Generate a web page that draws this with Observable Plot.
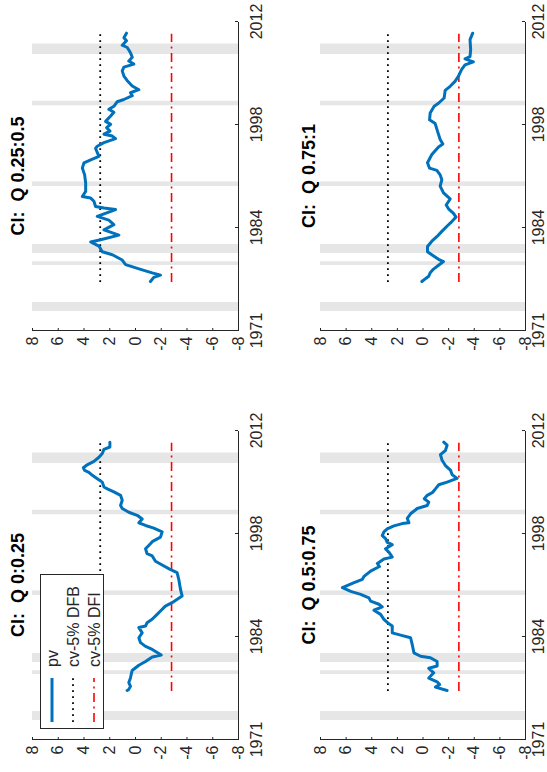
<!DOCTYPE html>
<html><head><meta charset="utf-8">
<script src="https://cdn.jsdelivr.net/npm/d3@7"></script>
<script src="https://cdn.jsdelivr.net/npm/@observablehq/plot@0.6"></script>
<style>
html,body{margin:0;padding:0;background:#fff;overflow:hidden;}
body{width:547px;height:772px;position:relative;}
#fig{position:absolute;left:0;top:0;width:772px;height:547px;transform-origin:0 0;transform:translate(0px,772px) rotate(-90deg);background:#fff;font-family:"Liberation Sans",Arial,Helvetica,sans-serif;}
.panel{position:absolute;}
.panel svg{overflow:visible;}
#legend{position:absolute;left:43px;top:40px;width:155px;height:64px;box-sizing:border-box;border:1px solid #262626;background:#fff;}
#legend svg{position:absolute;left:0;top:0;}
</style></head>
<body><div id="fig"></div>
<script>
// ---- axes / reference values ----
const xDomain = [1971.25, 2012.25];
const tickYears = [1971.25, 1984.9167, 1998.5833, 2012.25];
const tickLabels = ["1971", "1984", "1998", "2012"];
const valueTicks = [-8, -6, -4, -2, 0, 2, 4, 6, 8];
const recessionStart = [1973.9, 1980.0, 1981.6, 1990.5, 2001.2, 2008.0];
const recessionEnd   = [1975.1, 1980.5, 1982.8, 1991.1, 2001.8, 2009.4];
const cvDFB = 2.74;
const cvDFI = -2.8;
const sampleStart = 1977.75;
const sampleEnd = 2010.7;
const titles = ["CI:  Q 0:0.25", "CI:  Q 0.25:0.5", "CI:  Q 0.5:0.75", "CI:  Q 0.75:1"];
const legendLabels = ["pv", "cv-5% DFB", "cv-5% DFI"];

// ---- series: CI Q 0:0.25 ----
const yearsQ1 = [1977.75,1977.9,1978.3,1978.8,1979.4,1980.0,1980.4,1981.1,1981.6,1982.2,1982.45,1983.2,1983.6,1984.1,1984.75,1985.4,1986.1,1986.3,1986.75,1987.2,1987.85,1988.3,1988.95,1989.4,1990.3,1991.2,1992.5,1993.4,1993.85,1994.4,1994.9,1995.6,1995.9,1996.55,1997.0,1997.5,1998.1,1998.8,1999.3,1999.65,2000.0,2000.5,2001.0,2001.4,2001.9,2002.3,2003.0,2003.65,2004.1,2004.5,2004.75,2005.4,2005.85,2006.3,2006.7,2006.95,2007.3,2007.7,2008.15,2008.7,2009.2,2009.75,2010.06,2010.7];
const pvQ1 = [0.65,0.52,0.39,0.52,0.39,0.32,0.26,-0.26,-0.78,-1.3,-2.0,-1.3,-0.78,-0.39,-0.26,-0.52,-0.26,-0.78,-0.9,-1.29,-1.68,-1.94,-2.32,-2.84,-3.62,-3.49,-3.36,-3.23,-2.65,-2.07,-1.55,-1.3,-0.9,-0.78,-1.03,-1.3,-1.94,-2.07,-1.42,-0.78,-0.26,-0.52,-0.13,0.52,1.03,1.16,1.03,1.16,1.68,2.19,2.45,2.58,2.97,3.35,3.62,3.95,4.05,3.75,3.23,2.84,2.58,2.45,1.99,1.99];

// ---- series: CI Q 0.25:0.5 ----
const yearsQ2 = [1977.75,1978.3,1978.6,1978.9,1979.3,1980.0,1980.6,1981.3,1981.7,1982.45,1983.0,1983.3,1983.9,1984.6,1985.3,1985.9,1986.4,1987.3,1987.5,1987.7,1988.4,1988.82,1989.03,1989.7,1990.8,1991.9,1992.8,1993.5,1993.9,1994.35,1995.4,1995.7,1996.17,1996.7,1997.05,1997.3,1997.7,1998.16,1998.6,1999.0,1999.7,2000.2,2000.6,2001.0,2001.6,2001.9,2002.4,2002.8,2003.2,2003.7,2004.4,2005.0,2005.7,2006.2,2006.6,2007.0,2007.5,2008.1,2008.8,2009.1,2009.7,2010.1,2010.7];
const pvQ2 = [-1.16,-1.42,-1.94,-1.3,-0.52,0.77,1.03,1.8,2.58,2.84,3.48,2.71,1.29,2.45,1.68,2.07,2.97,1.55,2.45,3.1,3.23,3.48,4.13,3.87,3.87,3.95,4.13,4.0,3.48,2.84,3.1,2.97,2.45,1.55,1.8,2.45,1.98,2.24,1.93,2.32,1.93,1.68,2.07,1.68,1.42,0.9,0.25,0.39,-0.26,0.25,0.64,0.9,1.03,0.9,0.13,0.52,0.25,0.39,0.64,1.03,0.7,0.9,0.7];

// ---- series: CI Q 0.5:0.75 ----
const yearsQ3 = [1977.75,1978.2,1978.54,1978.9,1979.4,1980.1,1980.7,1981.0,1981.6,1982.1,1982.3,1982.75,1983.85,1984.75,1985.1,1985.4,1986.3,1986.6,1987.2,1987.85,1988.4,1988.85,1989.2,1989.6,1990.05,1990.5,1990.9,1991.4,1992.05,1992.5,1992.9,1993.6,1994.2,1994.6,1995.2,1995.45,1996.1,1996.55,1997.1,1997.4,1997.9,1998.3,1998.8,1999.2,1999.6,1999.9,2000.0,2000.6,2001.2,2001.9,2002.3,2002.75,2003.2,2003.65,2004.0,2004.5,2005.05,2005.4,2005.9,2006.4,2007.0,2007.6,2008.3,2009.05,2009.6,2010.3,2010.7];
const pvQ3 = [-1.88,-0.97,-1.3,-1.1,-0.45,-0.84,-0.45,-1.1,-1.1,-0.58,0.19,0.71,0.84,0.97,1.75,2.4,2.4,2.66,3.05,3.31,3.83,3.18,3.44,4.09,4.22,4.86,5.64,6.29,5.38,4.73,4.6,4.09,3.4,3.56,3.05,2.4,2.66,2.92,2.4,2.79,2.92,3.18,3.05,2.79,2.27,1.62,1.1,1.23,0.97,0.45,-0.33,-0.45,-0.1,-0.33,-0.72,-0.97,-1.23,-1.88,-2.66,-2.27,-2.14,-1.75,-1.49,-1.36,-1.75,-1.88,-1.62];

// ---- series: CI Q 0.75:1 ----
const yearsQ4 = [1977.75,1978.2,1978.4,1978.9,1979.4,1980.0,1980.4,1980.7,1981.2,1981.7,1982.4,1983.1,1983.7,1984.4,1985.15,1985.7,1986.3,1986.8,1987.4,1987.9,1988.7,1989.5,1990.4,1991.25,1991.9,1992.5,1992.8,1993.5,1994.6,1995.6,1996.0,1996.6,1997.7,1998.7,1999.2,2000.1,2001.0,2001.4,2002.1,2003.1,2003.65,2004.3,2005.0,2005.9,2006.5,2006.9,2007.3,2007.6,2008.5,2009.85,2010.7];
const pvQ4 = [0.09,-0.25,-0.43,-0.56,-0.82,-1.29,-1.6,-1.21,-0.77,-0.35,-0.35,-0.69,-1.08,-1.47,-1.91,-2.25,-2.58,-2.38,-1.99,-1.81,-2.12,-1.6,-1.34,-1.47,-1.34,-1.08,-0.51,-0.35,-0.69,-1.21,-1.55,-1.34,-1.13,-0.95,-0.51,-0.56,-0.87,-1.21,-1.65,-1.73,-2.12,-2.5,-2.77,-3.02,-3.28,-3.93,-3.28,-3.67,-3.72,-3.67,-3.88];

// ---- styling ----
const FONT = '"Liberation Sans", Arial, Helvetica, sans-serif';
const AXIS = "#262626";
const BLUE = "#0072BD";
const BAND = "#e6e6e6";
const DOT = "1.8,4.2";
const DASHDOT = "9,4.5,2,4.5";

const bands = recessionStart.map((s, i) => ({s, e: recessionEnd[i]}));
const tickLabelOf = new Map(tickYears.map((t, i) => [t, tickLabels[i]]));

const layouts = [
  {title: titles[0], years: yearsQ1, values: pvQ1, left: 0,   top: 0,   width: 386, height: 273, mL: 32, mR: 45, mT: 32, mB: 35, titleDy: -14, pad: 12},
  {title: titles[1], years: yearsQ2, values: pvQ2, left: 386, top: 0,   width: 386, height: 273, mL: 55, mR: 22, mT: 32, mB: 35, titleDy: -14, pad: 12},
  {title: titles[2], years: yearsQ3, values: pvQ3, left: 0,   top: 273, width: 386, height: 274, mL: 32, mR: 45, mT: 47, mB: 22, titleDy: -11, pad: 7},
  {title: titles[3], years: yearsQ4, values: pvQ4, left: 386, top: 273, width: 386, height: 274, mL: 55, mR: 22, mT: 47, mB: 22, titleDy: -11, pad: 7}
];

const fig = document.getElementById("fig");

for (const L of layouts) {
  const pts = L.years.map((yr, i) => ({year: yr, v: L.values[i]}));
  const plotW = L.width - L.mL - L.mR;
  const plotH = L.height - L.mT - L.mB;
  const svg = Plot.plot({
    width: L.width,
    height: L.height,
    marginLeft: L.mL, marginRight: L.mR, marginTop: L.mT, marginBottom: L.mB,
    style: {fontFamily: FONT, fontSize: "16px", color: AXIS, background: "transparent", overflow: "visible"},
    x: {domain: xDomain, label: null},
    y: {domain: [-8, 8], label: null},
    marks: [
      Plot.rect(bands, {x1: "s", x2: "e", fill: BAND}),
      Plot.ruleY([cvDFB], {x1: sampleStart, x2: sampleEnd, stroke: "black", strokeWidth: 1.8, strokeDasharray: DOT}),
      Plot.ruleY([cvDFI], {x1: sampleStart, x2: sampleEnd, stroke: "#ff0000", strokeWidth: 1.6, strokeDasharray: DASHDOT}),
      Plot.line(pts, {x: "year", y: "v", stroke: BLUE, strokeWidth: 3, strokeLinejoin: "round", strokeLinecap: "round"}),
      Plot.ruleY([-8], {stroke: AXIS, strokeWidth: 1}),
      Plot.ruleX([xDomain[0]], {stroke: AXIS, strokeWidth: 1}),
      Plot.tickX(tickYears, {x: d => d, insetTop: plotH - 3, stroke: AXIS}),
      Plot.tickY(valueTicks, {y: d => d, insetRight: plotW - 3, stroke: AXIS}),
      Plot.axisX({ticks: tickYears, tickFormat: d => tickLabelOf.get(d), tickSize: 0, tickPadding: L.pad, fontSize: 16, label: null}),
      Plot.axisY({ticks: valueTicks, tickFormat: d => String(d), tickSize: 0, tickPadding: 6, fontSize: 16, label: null}),
      Plot.text([L.title], {text: d => d, frameAnchor: "top", lineAnchor: "middle", dy: L.titleDy, fontWeight: "bold", fontSize: 18, fill: "black"})
    ]
  });
  const wrap = document.createElement("div");
  wrap.className = "panel";
  wrap.style.left = L.left + "px";
  wrap.style.top = L.top + "px";
  wrap.style.width = L.width + "px";
  wrap.style.height = L.height + "px";
  wrap.appendChild(svg);
  fig.appendChild(wrap);
}

// ---- legend (first panel) ----
const legend = document.createElement("div");
legend.id = "legend";
const ns = "http://www.w3.org/2000/svg";
const ls = document.createElementNS(ns, "svg");
ls.setAttribute("width", 153); ls.setAttribute("height", 62);
const rowStyles = [
  {stroke: BLUE, width: 3, dash: null},
  {stroke: "black", width: 1.8, dash: DOT},
  {stroke: "#ff0000", width: 1.6, dash: DASHDOT}
];
legendLabels.forEach((lab, i) => {
  const cy = 11 + i * 21;
  const ln = document.createElementNS(ns, "line");
  ln.setAttribute("x1", 6); ln.setAttribute("x2", 50);
  ln.setAttribute("y1", cy); ln.setAttribute("y2", cy);
  ln.setAttribute("stroke", rowStyles[i].stroke);
  ln.setAttribute("stroke-width", rowStyles[i].width);
  if (rowStyles[i].dash) ln.setAttribute("stroke-dasharray", rowStyles[i].dash);
  ls.appendChild(ln);
  const tx = document.createElementNS(ns, "text");
  tx.setAttribute("x", 61); tx.setAttribute("y", cy);
  tx.setAttribute("dy", "0.35em");
  tx.setAttribute("font-size", 16);
  tx.setAttribute("font-family", FONT);
  tx.setAttribute("fill", AXIS);
  tx.textContent = lab;
  ls.appendChild(tx);
});
legend.appendChild(ls);
fig.appendChild(legend);
</script>
</body></html>
